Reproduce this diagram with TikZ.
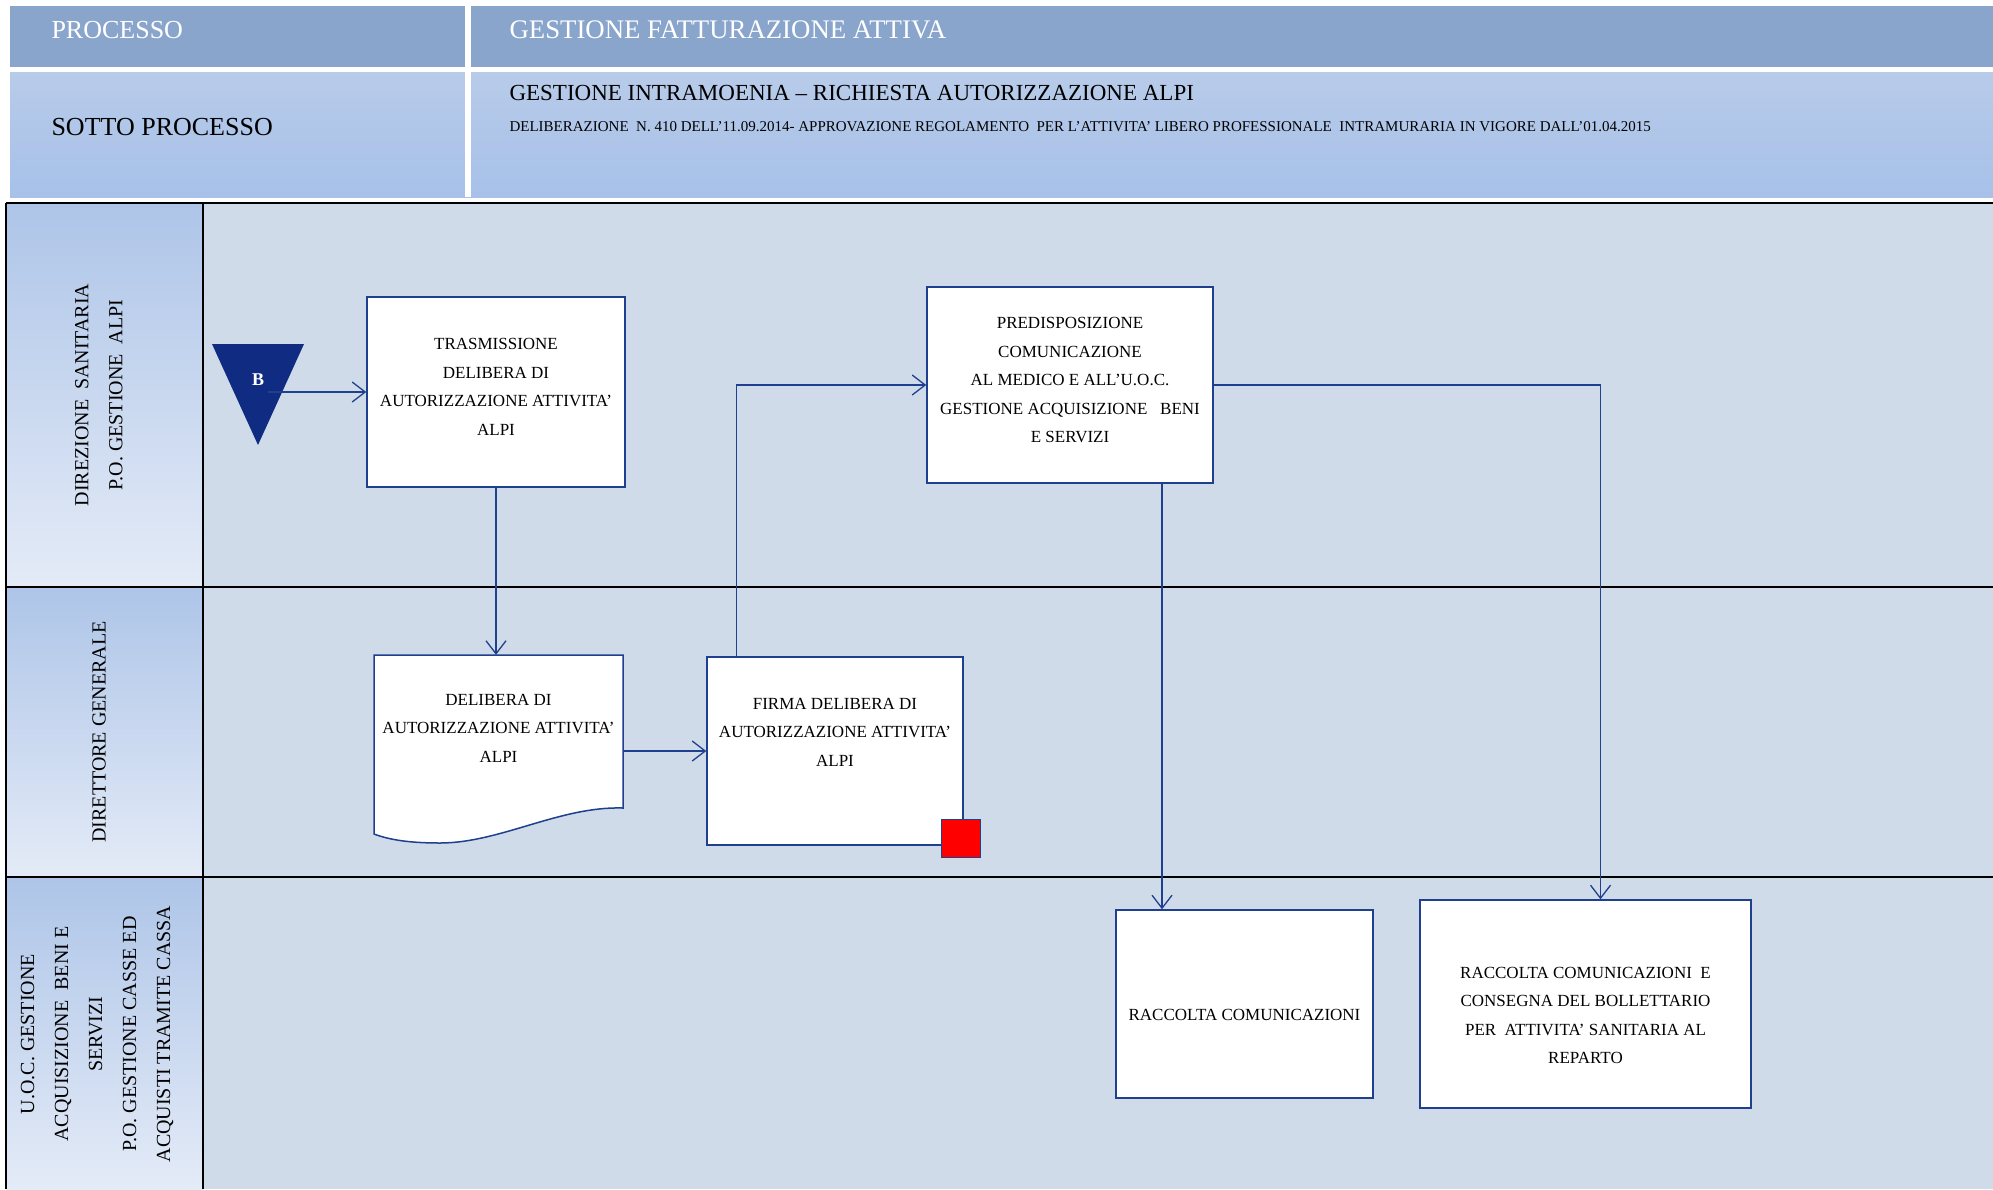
\documentclass[tikz,border=0pt]{standalone}
\usepackage{fontspec}
\setmainfont{Liberation Serif}
\usetikzlibrary{arrows.meta}

\definecolor{headdark}{RGB}{137,165,204}
\definecolor{headtop}{RGB}{184,203,233}
\definecolor{headbot}{RGB}{167,193,233}
\definecolor{lanebg}{RGB}{207,219,233}
\definecolor{coltop}{RGB}{174,197,232}
\definecolor{colbot}{RGB}{228,235,247}
\definecolor{flowblue}{RGB}{31,63,143}
\definecolor{navy}{RGB}{15,43,130}

\newcommand{\boxfont}{\fontsize{17}{28.6}\selectfont}
\newcommand{\lanefont}{\fontsize{20}{34}\selectfont}

\begin{document}
\begin{tikzpicture}[x=1pt, y=-1pt, >={Straight Barb[length=13pt,width=20pt]},
  box/.style={draw=flowblue, line width=1.5pt, fill=white, align=center, font=\boxfont, inner sep=2pt},
  docbox/.style={align=center, font=\boxfont, inner sep=2pt},
  flow/.style={draw=flowblue, line width=1.3pt, ->},
  lanelabel/.style={rotate=90, align=center, font=\lanefont},
  lanerule/.style={line width=2.5pt}]
\useasboundingbox (0,0) rectangle (1993,1189);
% header
\fill[headdark] (10,6) rectangle (1993,67);
\shade[top color=headtop, bottom color=headbot] (10,72) rectangle (1993,197);
\fill[white] (465,6) rectangle (471,197);
\node[anchor=west, text=white, font=\fontsize{26}{30}\selectfont] (proc) at (48,30) {PROCESSO};
\node[anchor=west, text=white, font=\fontsize{26.8}{30}\selectfont] (procname) at (506,30) {GESTIONE FATTURAZIONE ATTIVA};
\node[anchor=west, font=\fontsize{26}{30}\selectfont] (sotto) at (48,127) {SOTTO PROCESSO};
\node[anchor=west, font=\fontsize{23}{26}\selectfont] (sottoname) at (506,93) {GESTIONE INTRAMOENIA -- RICHIESTA AUTORIZZAZIONE ALPI};
\node[anchor=west, font=\fontsize{15}{17}\selectfont] (delib) at (506,127) {DELIBERAZIONE\ \ N. 410 DELL’11.09.2014- APPROVAZIONE REGOLAMENTO\ \ PER L’ATTIVITA’ LIBERO PROFESSIONALE\ \ INTRAMURARIA IN VIGORE DALL’01.04.2015};
% lanes
\fill[lanebg] (203,203) rectangle (1993,1189);
\foreach \ya/\yb in {203/587,587/877,877/1189}
  \shade[top color=coltop, bottom color=colbot] (6,\ya) rectangle (203,\yb);
\foreach \y in {203,587,877}
  \draw[lanerule] (6,\y) -- (1993,\y);
\draw[lanerule] (6,203) -- (6,1189);
\draw[lanerule] (203,203) -- (203,1189);
\node[lanelabel] (lane1) at (99,395) {DIREZIONE\ \ SANITARIA\\P.O. GESTIONE\ \ ALPI};
\node[lanelabel] (lane2) at (99,732) {DIRETTORE GENERALE};
\node[lanelabel] (lane3) at (97,1034) {U.O.C. GESTIONE\\ACQUISIZIONE\ \ BENI E\\SERVIZI\\P.O. GESTIONE CASSE ED\\ACQUISTI TRAMITE CASSA};
% start marker
\fill[navy] (212,344) -- (304,344) -- (258,445) -- cycle;
\node[text=white, font=\fontsize{18}{20}\selectfont\bfseries] (b) at (258,380) {B};
% activities
\node[box, minimum width=258, minimum height=190, text depth=10pt] (trasm) at (496,392)
  {TRASMISSIONE\\DELIBERA DI\\AUTORIZZAZIONE ATTIVITA’\\ALPI};
\node[box, minimum width=286, minimum height=196, text depth=10pt] (pred) at (1070,385)
  {PREDISPOSIZIONE\\COMUNICAZIONE\\AL MEDICO E ALL’U.O.C.\\GESTIONE ACQUISIZIONE\ \ \ BENI\\E SERVIZI};
\filldraw[draw=flowblue, line width=1.5pt, fill=white] (374,655) -- (623,655) -- (623,808)
  .. controls (560,806) and (500,843) .. (440,843)
  .. controls (410,843) and (390,840) .. (374,834) -- cycle;
\node[docbox, minimum width=249, minimum height=152, text depth=6pt] (deli) at (498.5,731)
  {DELIBERA DI\\AUTORIZZAZIONE ATTIVITA’\\ALPI};
\node[box, minimum width=256, minimum height=188, text depth=38pt] (firma) at (835,751)
  {FIRMA DELIBERA DI\\AUTORIZZAZIONE ATTIVITA’\\ALPI};
\filldraw[fill=red, draw=flowblue, line width=1pt] (941,819) rectangle (980,857);
\node[box, minimum width=257, minimum height=188, text height=33pt] (racc1) at (1244.5,1004) {RACCOLTA COMUNICAZIONI};
\node[box, minimum width=331, minimum height=208, text height=120pt] (racc2) at (1585.5,1004)
  {RACCOLTA COMUNICAZIONI\ \ E\\CONSEGNA DEL BOLLETTARIO\\PER\ \ ATTIVITA’ SANITARIA AL\\REPARTO};
% connectors
\draw[flow] (b.east |- trasm.west) -- (trasm.west);
\draw[flow] (trasm.south) -- (trasm.south |- deli.north);
\draw[flow] (firma.west -| deli.east) -- (firma.west);
\draw[flow] ([xshift=30]firma.north west) |- (pred.west);
\draw[flow] ([xshift=92]pred.south) -- ([xshift=92]pred.south |- racc1.north);
\draw[flow] (pred.east) -| ([xshift=15]racc2.north);
\end{tikzpicture}
\end{document}
